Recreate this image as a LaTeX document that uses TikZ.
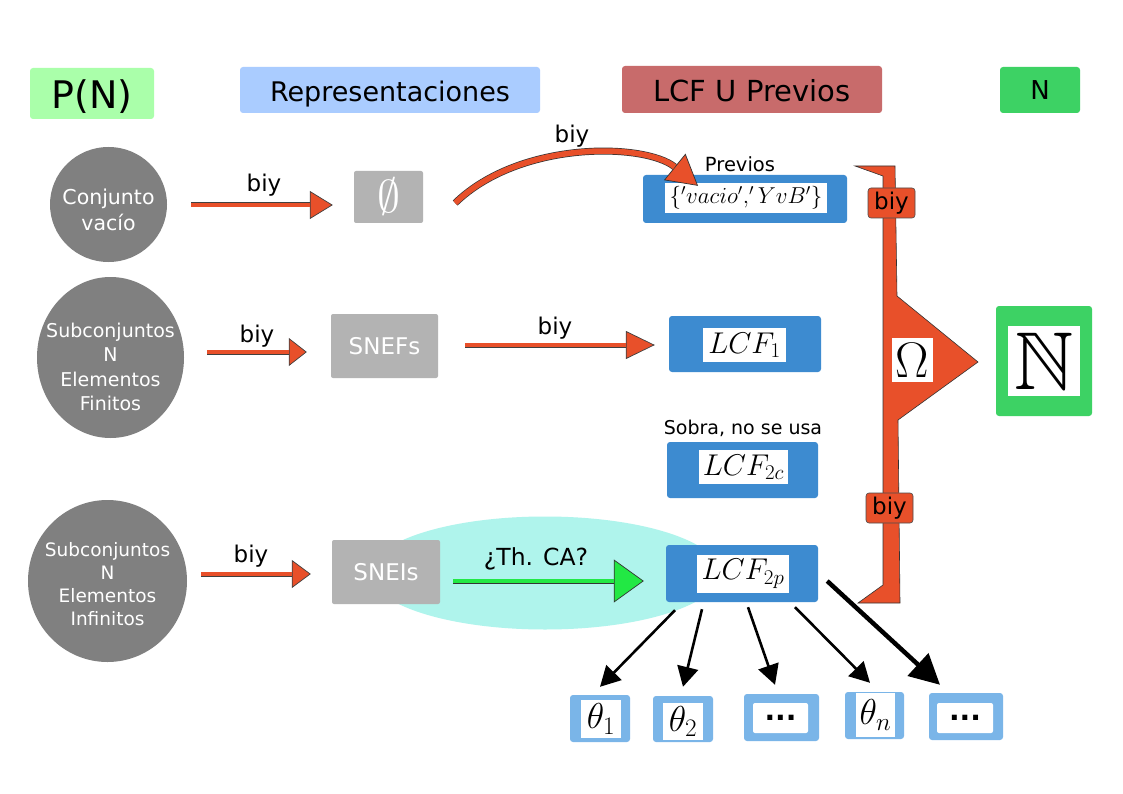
\RequirePackage{fix-cm}
\documentclass[tikz,border=0pt]{standalone}
\usepackage{amssymb}
\usepackage{fontspec}
\setmainfont{DejaVu Sans}
\usetikzlibrary{shapes.geometric,arrows.meta,calc}
\definecolor{hgreen}{HTML}{AAFFAA}
\definecolor{hblue}{HTML}{AACCFF}
\definecolor{hred}{HTML}{C86B6B}
\definecolor{ngreen}{HTML}{3DD264}
\definecolor{cgray}{HTML}{808080}
\definecolor{bgray}{HTML}{B3B3B3}
\definecolor{lblue}{HTML}{3D8BD0}
\definecolor{tblue}{HTML}{7AB5E8}
\definecolor{myred}{HTML}{E8502A}
\definecolor{cyanish}{HTML}{AFF4EC}
\definecolor{agreen}{HTML}{22E844}
\newcommand\fs[1]{\fontsize{#1}{#1}\selectfont}
\begin{document}
\begin{tikzpicture}[x=1pt,y=-1pt,
  box/.style={rectangle, rounded corners=3pt, inner sep=0pt},
  circ/.style={ellipse, fill=cgray, inner sep=0pt},
  ctext/.style={text=white, align=center, inner sep=0pt},
  wbox/.style={rectangle, fill=white, inner sep=0pt},
  redarr/.style={draw=black!75, line width=5pt,
    -{Triangle[length=#1,width=28pt,line width=0.7pt,fill=myred]},
    postaction={draw=myred, line width=3.2pt, shorten >=#1, -}},
  redcurve/.style={draw=black!80, line width=7pt,
    -{Triangle[length=30pt,width=34pt,line width=0.7pt,fill=myred]},
    postaction={draw=myred, line width=5.6pt, shorten >=30pt, -}},
  grnarr/.style={draw=black!80, line width=5pt,
    -{Triangle[length=30pt,width=43pt,line width=0.7pt,fill=agreen]},
    postaction={draw=agreen, line width=3.2pt, shorten >=30pt, -}},
  blk/.style={line width=2.6pt, -{Triangle[length=20pt,width=21pt]}},
  blkthick/.style={line width=4.5pt, -{Triangle[length=30pt,width=30pt]}},
  lbl/.style={inner sep=0pt}
]
\useasboundingbox (0,0) rectangle (1123,794);
\fill[white] (0,0) rectangle (1123,794);

% cyan ellipse
\node[ellipse, fill=cyanish, minimum width=350pt, minimum height=113pt, inner sep=0pt] (ell) at (545,573) {};

% headers
\node[box, fill=hgreen, minimum width=124pt, minimum height=51pt, text height=31pt, text depth=0pt] (hpn) at (92,93.5) {\fs{38}P(N)};
\node[box, fill=hblue, minimum width=300pt, minimum height=46pt, text height=24pt, text depth=0pt] (hrep) at (390,90) {\fs{27}Representaciones};
\node[box, fill=hred, minimum width=260pt, minimum height=47pt, text height=25pt, text depth=0pt] (hlcf) at (752,89.5) {\fs{29}LCF U Previos};
\node[box, fill=ngreen, minimum width=80pt, minimum height=46pt] (hn) at (1040,90) {\fs{26}N};

% circles
\node[circ, minimum width=117pt, minimum height=115pt] (c1) at (108.5,204.5) {};
\node[ctext, font=\fontsize{20.5}{26}\selectfont] (c1t) at (108.5,210) {Conjunto\\vacío};
\node[circ, minimum width=147pt, minimum height=161pt] (c2) at (110.5,357.5) {};
\node[ctext, font=\fontsize{19}{24.2}\selectfont] (c2t) at (110.5,367) {Subconjuntos\\N\\Elementos\\Finitos};
\node[circ, minimum width=159pt, minimum height=162pt] (c3) at (107.5,581) {};
\node[ctext, font=\fontsize{18.5}{23.2}\selectfont] (c3t) at (107.5,584) {Subconjuntos\\N\\Elementos\\Infinitos};

% gray boxes
\node[box, rounded corners=2pt, fill=bgray, text=white, minimum width=69pt, minimum height=52pt] (e) at (388.5,197) {\fs{46}$\emptyset$};
\node[box, rounded corners=2pt, fill=bgray, text=white, minimum width=107pt, minimum height=64pt] (snef) at (384.5,346) {\fs{23}SNEFs};
\node[box, rounded corners=2pt, fill=bgray, text=white, minimum width=108pt, minimum height=64pt] (snei) at (386,572) {\fs{23}SNEIs};

% blue boxes
\node[box, fill=lblue, minimum width=204pt, minimum height=48pt] (prev) at (745,199) {};
\node[wbox, minimum width=162pt, minimum height=30pt] (prevt) at (746,198) {\fs{23}$\{'vacio','YvB'\}$};
\node[lbl] (prevl) at (740,164) {\fs{19.5}Previos};

\node[box, fill=lblue, minimum width=152pt, minimum height=56pt] (lcf1) at (745,344) {};
\node[wbox, minimum width=83pt, minimum height=34pt] (lcf1t) at (744.5,345) {\fs{30}$LCF_1$};

\node[lbl] (sobra) at (743,428) {\fs{19}Sobra, no se usa};
\node[box, fill=lblue, minimum width=151pt, minimum height=56pt] (lcf2c) at (742.5,470) {};
\node[wbox, minimum width=89pt, minimum height=34pt] (lcf2ct) at (743.5,467) {\fs{30}$LCF_{2c}$};

\node[box, fill=lblue, minimum width=152pt, minimum height=57pt] (lcf2p) at (742,573.5) {};
\node[wbox, minimum width=92pt, minimum height=38pt] (lcf2pt) at (743,574) {\fs{30}$LCF_{2p}$};

% theta boxes
\node[box, fill=tblue, minimum width=60pt, minimum height=47pt] (t1) at (600,718.5) {};
\node[wbox, minimum width=40pt, minimum height=38pt] (t1i) at (601,719) {\fs{36}$\theta_1$};
\node[box, fill=tblue, minimum width=60pt, minimum height=46pt] (t2) at (683,719) {};
\node[wbox, minimum width=40pt, minimum height=37pt] (t2i) at (683,721.5) {\fs{36}$\theta_2$};
\node[box, fill=tblue, minimum width=75pt, minimum height=47pt] (t3) at (781.5,717.5) {};
\node[wbox, rounded corners=2pt, minimum width=55pt, minimum height=30pt] (t3i) at (780.5,718) {\fs{28}\bfseries ...};
\node[box, fill=tblue, minimum width=59pt, minimum height=47pt] (tn) at (874.5,715.5) {};
\node[wbox, minimum width=39pt, minimum height=44pt] (tni) at (875.5,715) {\fs{36}$\theta_n$};
\node[box, fill=tblue, minimum width=74pt, minimum height=47pt] (t5) at (966,716.5) {};
\node[wbox, rounded corners=2pt, minimum width=56pt, minimum height=30pt] (t5i) at (965,718) {\fs{28}\bfseries ...};

% N box
\node[box, fill=ngreen, minimum width=96pt, minimum height=110pt] (nb) at (1044,361) {};
\node[wbox, minimum width=72pt, minimum height=70pt] (nbi) at (1044,361) {\fs{82}$\mathbb{N}$};

% bracket
\filldraw[fill=myred, draw=black!80, line width=0.6pt] (855,166) -- (895,166) -- (897,296) -- (978,362) -- (898,420) -- (900,603) -- (858,603) -- (883,585) -- (883,176) -- cycle;
\node[wbox, minimum width=41pt, minimum height=44pt] (om) at (912.5,360) {\fs{50}$\Omega$};
\node[box, fill=myred, draw=black!70, line width=0.6pt, minimum width=47pt, minimum height=30pt] (bb1) at (891.5,203) {\fs{23}biy};
\node[box, fill=myred, draw=black!70, line width=0.6pt, minimum width=47pt, minimum height=30pt] (bb2) at (889.5,508) {\fs{23}biy};

% red arrows
\draw[redarr=23pt] ($(c1.east)+(24,0.5)$) -- ($(e.west)+(-21,8)$);
\node[lbl] (l1) at (264,185) {\fs{23}biy};
\draw[redarr=18pt] ($(c2.east)+(23,-5.5)$) -- ($(snef.west)+(-24,6)$);
\node[lbl] (l2) at (257,336) {\fs{23}biy};
\draw[redarr=19pt] ($(c3.east)+(14,-7)$) -- ($(snei.west)+(-21,2)$);
\node[lbl] (l3) at (251,556) {\fs{23}biy};
\draw[redarr=29pt] ($(snef.east)+(27,-1)$) -- ($(lcf1.west)+(-14,1)$);
\node[lbl] (l4) at (555,328) {\fs{23}biy};
\draw[redcurve] ($(e.east)+(32,6)$) .. controls ($(e.east)+(97,-57)$) and ($(prev.north)+(-100,-32)$) .. ($(prev.north)+(-47,11)$);
\node[lbl] (l5) at (572,136) {\fs{23}biy};

% green arrow
\draw[grnarr] ($(snei.east)+(13,9)$) -- ($(lcf2p.west)+(-22,7.5)$);
\node[lbl] (thca) at (536,559) {\fs{23.5}¿Th. CA?};

% black arrows
\draw[blk] ($(lcf2p.south)+(-67,8)$) -- ($(t1.north)+(0,-8)$);
\draw[blk] ($(lcf2p.south)+(-40,7)$) -- ($(t2.north)+(0,-9)$);
\draw[blk] ($(lcf2p.south)+(6,5)$) -- ($(t3.north)+(-6.5,-9)$);
\draw[blk] ($(lcf2p.south)+(53,5)$) -- ($(tn.north)+(-4.5,-9)$);
\draw[blkthick] ($(lcf2p.east)+(9,7.5)$) -- ($(t5.north)+(-26,-8)$);
\end{tikzpicture}
\end{document}
